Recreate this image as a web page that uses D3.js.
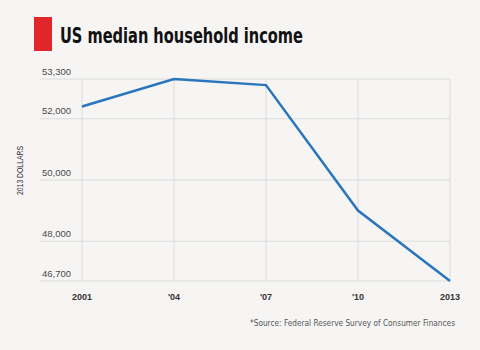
<!DOCTYPE html>
<html>
<head>
<meta charset="utf-8">
<script src="https://cdn.jsdelivr.net/npm/d3@7"></script>
<style>
  body { margin: 0; background: #f6f5f4; }
  text { font-family: "Liberation Sans", Arial, sans-serif; }
  .narrow { font-family: "Liberation Sans Narrow", "DejaVu Sans Condensed", sans-serif; }
</style>
</head>
<body>
<div id="chart-area"></div>
<script>
// data
const years = [2001, 2004, 2007, 2010, 2013];
const yearLabels = ["2001", "'04", "'07", "'10", "2013"];
const income = [52400, 53300, 53100, 49000, 46700];
const yTicks = [46700, 48000, 50000, 52000, 53300];

const width = 480;
const height = 350;

const svg = d3.select("#chart-area")
    .append("svg")
    .attr("width", width)
    .attr("height", height);

svg.append("rect")
    .attr("width", width)
    .attr("height", height)
    .attr("fill", "#f6f5f4");

// header
svg.append("rect")
    .attr("x", 34)
    .attr("y", 17)
    .attr("width", 18)
    .attr("height", 34)
    .attr("fill", "#e0262b");

svg.append("text")
    .attr("class", "narrow")
    .attr("x", 60)
    .attr("y", 43)
    .attr("font-size", "22px")
    .attr("font-weight", "bold")
    .attr("fill", "#111")
    .attr("textLength", 243)
    .attr("lengthAdjust", "spacingAndGlyphs")
    .text("US median household income");

// scales
const x = d3.scaleLinear()
    .domain([2001, 2013])
    .range([82, 450]);

const y = d3.scaleLinear()
    .domain([46700, 53300])
    .range([281, 79]);

// horizontal grid + labels
const yGrid = svg.append("g").attr("class", "y-grid");
yGrid.selectAll("line")
    .data(yTicks)
    .enter().append("line")
    .attr("x1", 40)
    .attr("x2", 450)
    .attr("y1", d => y(d))
    .attr("y2", d => y(d))
    .attr("stroke", "#dcdcdc")
    .attr("stroke-width", 1);

yGrid.selectAll("text")
    .data(yTicks)
    .enter().append("text")
    .attr("x", 42)
    .attr("y", d => y(d) - 4.5)
    .attr("font-size", "9.5px")
    .attr("fill", "#4a4a4a")
    .text(d => d3.format(",")(d));

// vertical grid
svg.append("g").selectAll("line")
    .data(years)
    .enter().append("line")
    .attr("x1", d => x(d))
    .attr("x2", d => x(d))
    .attr("y1", y(53300))
    .attr("y2", y(46700))
    .attr("stroke", "#dcdcdc")
    .attr("stroke-width", 1);

// x labels
svg.append("g").selectAll("text")
    .data(years)
    .enter().append("text")
    .attr("x", d => x(d))
    .attr("y", 299.5)
    .attr("text-anchor", "middle")
    .attr("font-size", "9px")
    .attr("font-weight", "bold")
    .attr("fill", "#333")
    .text((d, i) => yearLabels[i]);

// y axis title
svg.append("text")
    .attr("transform", "translate(23," + 170.5 + ") rotate(-90)")
    .attr("text-anchor", "middle")
    .attr("font-size", "8.5px")
    .attr("fill", "#333")
    .attr("textLength", 49)
    .attr("lengthAdjust", "spacingAndGlyphs")
    .text("2013 DOLLARS");

// line
const line = d3.line()
    .x((d, i) => x(years[i]))
    .y(d => y(d));

svg.append("path")
    .datum(income)
    .attr("d", line)
    .attr("fill", "none")
    .attr("stroke", "#2a75bb")
    .attr("stroke-width", 2.5)
    .attr("stroke-linejoin", "miter");

// source
svg.append("text")
    .attr("class", "narrow")
    .attr("x", 250)
    .attr("y", 326)
    .attr("font-size", "9px")
    .attr("fill", "#555")
    .attr("textLength", 205)
    .attr("lengthAdjust", "spacingAndGlyphs")
    .text("*Source: Federal Reserve Survey of Consumer Finances");
</script>
</body>
</html>
